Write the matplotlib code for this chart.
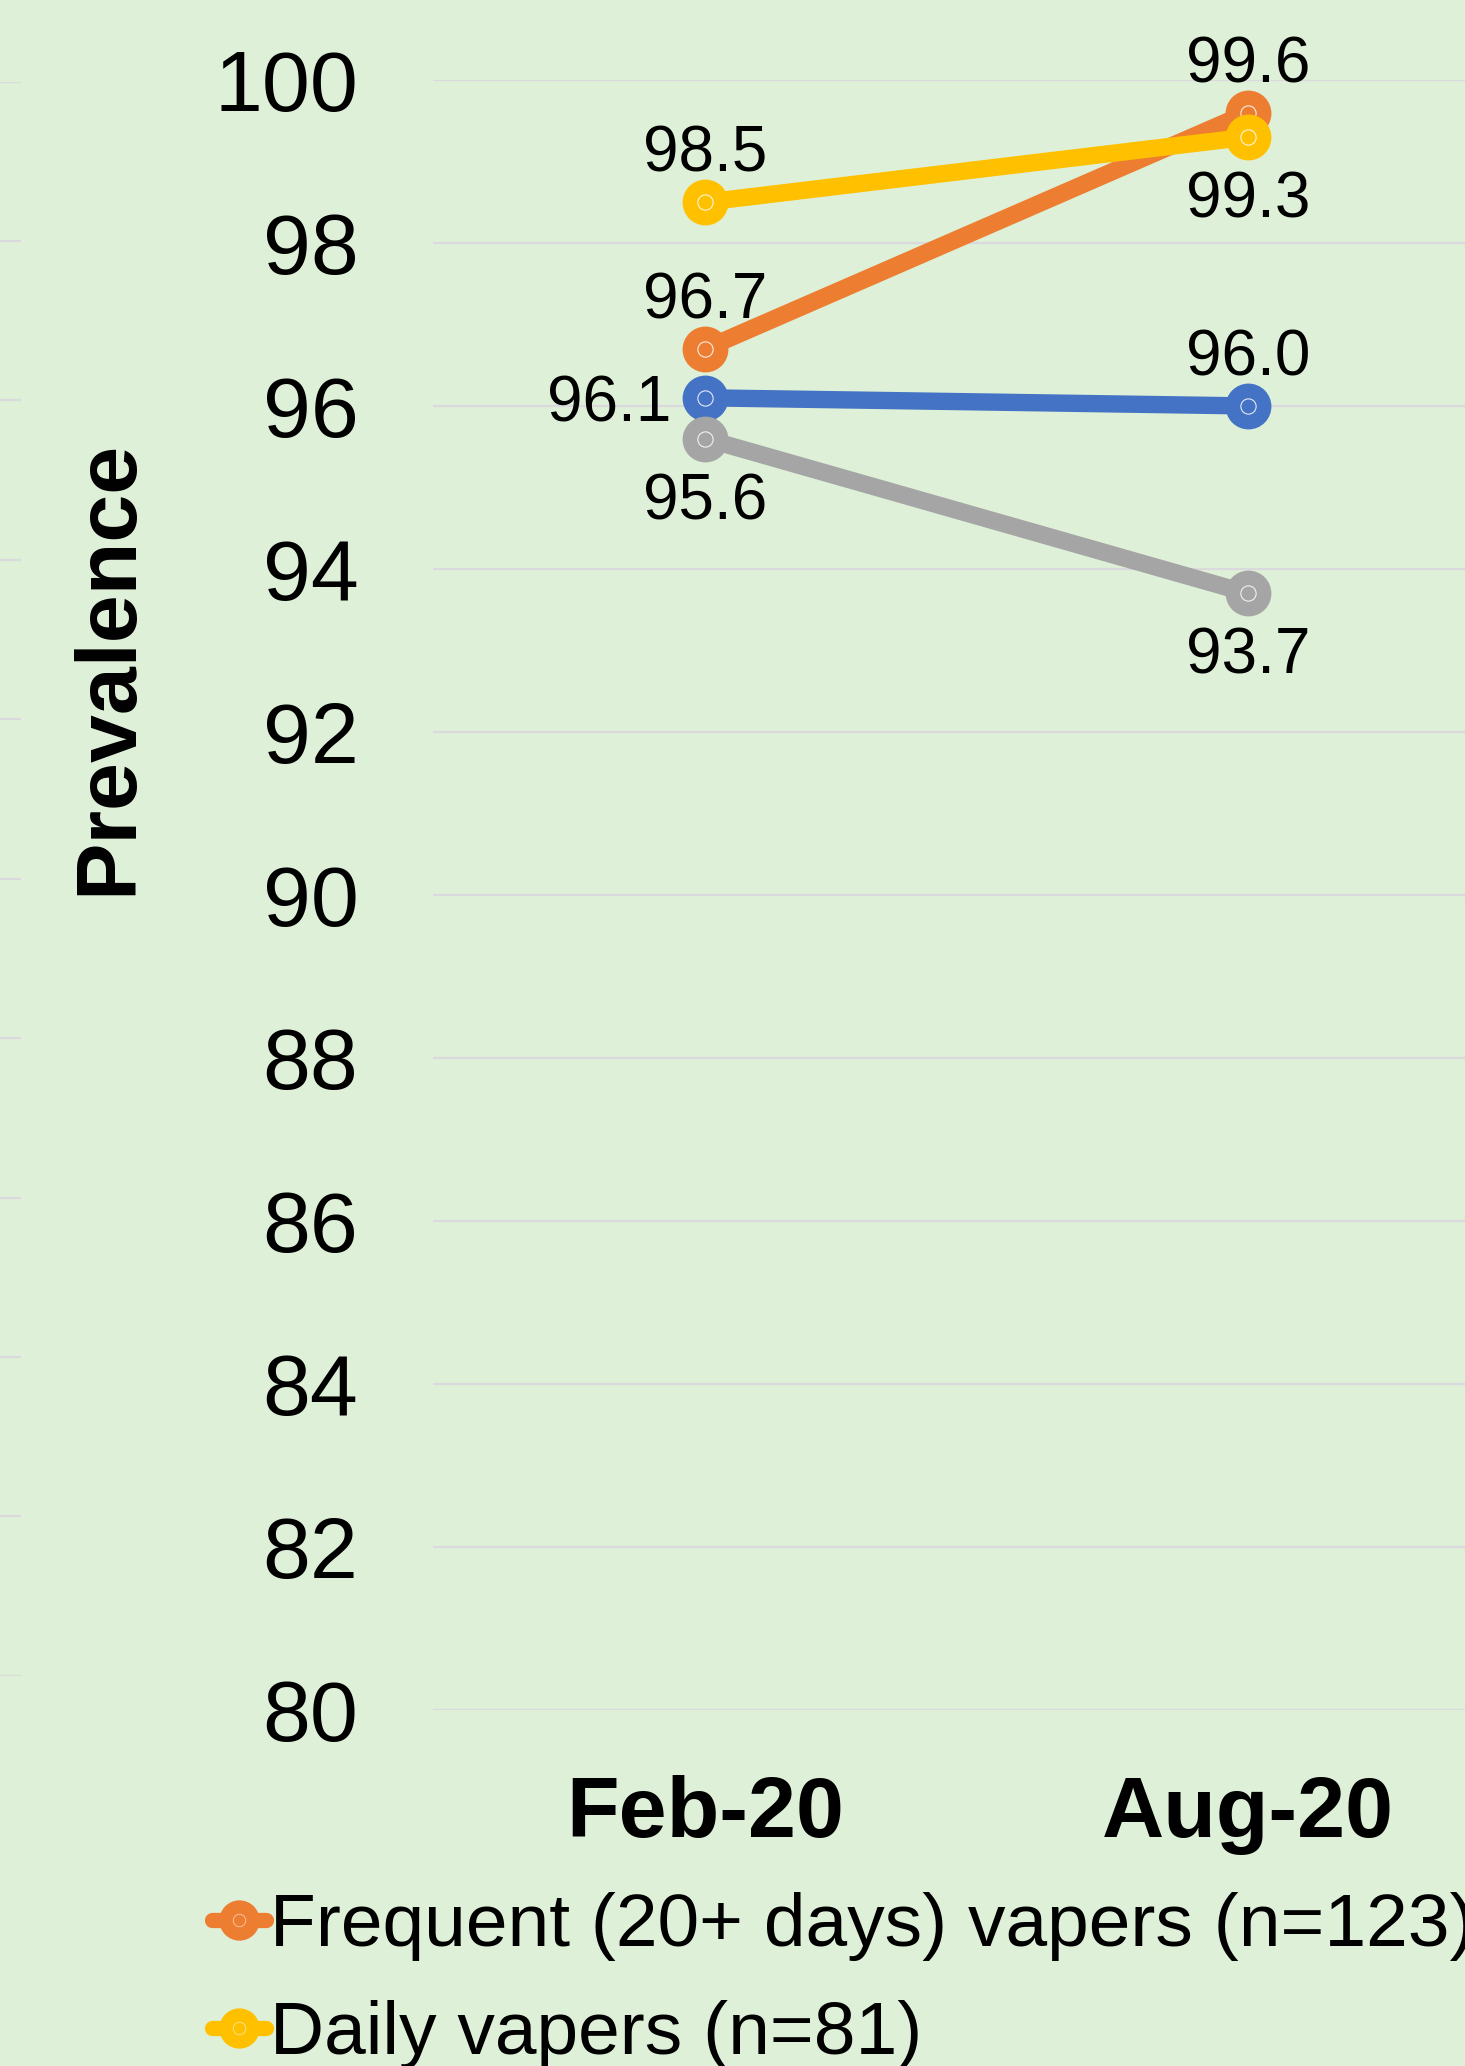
import numpy as np
import matplotlib
matplotlib.use('Agg')
import matplotlib.pyplot as plt
from matplotlib.lines import Line2D

plt.rcParams['font.family'] = ['Liberation Sans', 'DejaVu Sans']

# survey waves and prevalence per vaper group
waves = ['Feb-20', 'Aug-20']
allVapers = [96.1, 96.0]
frequentVapers = [96.7, 99.6]
nonDailyVapers = [95.6, 93.7]
dailyVapers = [98.5, 99.3]

yTicks = list(range(80, 101, 2))

bgColor = '#DEF0D8'
gridColor = '#D9D9DE'

# (values, colour, label placement per wave)
series = [
    (allVapers, '#4472C4', ['left', 'above']),
    (frequentVapers, '#ED7D31', ['above', 'above']),
    (nonDailyVapers, '#A5A5A5', ['below', 'below']),
    (dailyVapers, '#FFC000', ['above', 'below']),
]

legendLabels = ['Frequent (20+ days) vapers (n=123)', 'Daily vapers (n=81)']
legendColors = ['#ED7D31', '#FFC000']

W, H = 1465, 2066
fig = plt.figure(figsize=(W / 100, H / 100), dpi=100, facecolor=bgColor)

# main plot area (runs off the right edge)
ax = fig.add_axes([433.5 / W, 1 - 1709.7 / H, 1086 / W, 1629.7 / H])
ax.set_facecolor(bgColor)
x = np.arange(len(waves))

offsets = {'above': ((0, 22), 'center', 'baseline'),
           'below': ((0, -58), 'center', 'baseline'),
           'left': ((-24, -17), 'right', 'baseline')}

for vals, color, places in series:
    ax.plot(x, vals, color=color, lw=12.5, marker='o', ms=33, mec=color,
            mfc=color, mew=0, solid_capstyle='round', zorder=3)
    ax.plot(x, vals, ls='none', marker='o', ms=11, mfc='none',
            mec='white', mew=0.8, alpha=0.85, zorder=3)
    for xi, v, p in zip(x, vals, places):
        off, ha, va = offsets[p]
        ax.annotate(f'{v:.1f}', (xi, v), xytext=off, textcoords='offset points',
                    ha=ha, va=va, fontsize=46, color='black', zorder=4)

ax.set_xlim(-0.5, 1.5)
ax.set_ylim(80, 100)
ax.set_yticks(yTicks)
ax.set_xticks(x)
ax.set_xticklabels(waves, fontsize=62, fontweight='bold')
ax.tick_params(axis='y', labelsize=62, length=0, pad=54)
ax.tick_params(axis='x', length=0, pad=47)
ax.grid(axis='y', color=gridColor, lw=1.6)
ax.set_axisbelow(True)
for s in ax.spines.values():
    s.set_visible(False)

# grid stubs of the neighbouring panel at the left edge
axL = fig.add_axes([0, 1 - 1675.7 / H, 21 / W, (1675.7 - 81.7) / H])
axL.set_facecolor(bgColor)
axL.set_ylim(80, 100)
axL.set_yticks(yTicks)
axL.set_xticks([])
axL.tick_params(length=0, labelleft=False)
axL.grid(axis='y', color=gridColor, lw=1.6)
for s in axL.spines.values():
    s.set_visible(False)

fig.text(109 / W, 1 - 667 / H, 'Prevalence', rotation=90, ha='center',
         va='center', fontsize=62, fontweight='bold')

handles = []
for c in legendColors:
    line = Line2D([], [], color=c, lw=11, marker='o', ms=29, mfc=c, mec=c,
                  mew=0, solid_capstyle='round')
    ring = Line2D([], [], ls='none', marker='o', ms=9, mfc='none',
                  mec='white', mew=0.6, alpha=0.6)
    handles.append((line, ring))

fig.legend(handles, legendLabels, loc='upper left',
           bbox_to_anchor=(212 / W, 1 - 1892 / H), frameon=False,
           fontsize=54, handlelength=0.72, handletextpad=0.05,
           labelspacing=0.52, borderpad=0, borderaxespad=0)

fig.savefig('out.png', dpi=100, facecolor=bgColor)
